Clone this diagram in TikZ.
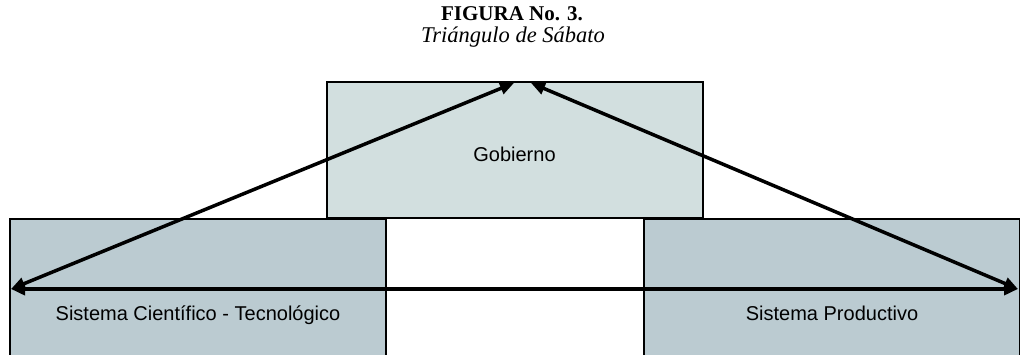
\documentclass[tikz,border=0pt]{standalone}
\usepackage{fontspec}
\setmainfont{Liberation Serif}
\newfontfamily\boxfont{Liberation Sans}
\usetikzlibrary{positioning,arrows.meta}

\definecolor{gobfill}{HTML}{D2DFDF}
\definecolor{sysfill}{HTML}{BBCBD1}

\begin{document}
\begin{tikzpicture}[x=1pt, y=-1pt, >={Triangle[length=14pt, width=12pt]}, line width=3.5pt]
    \tikzset{sisbox/.style={draw, line width=2pt, fill=sysfill, minimum width=376pt, minimum height=188pt, inner sep=0pt, text height=18pt, text depth=4pt, font=\boxfont\fontsize{20}{24}\selectfont}}
    \useasboundingbox (0,0) rectangle (1020,354);
    \clip (0,0) rectangle (1020,354);
    \node[font=\bfseries\fontsize{21}{24}\selectfont] (fig) at (512,14) {FIGURA No. 3.};
    \node[font=\itshape\fontsize{22.5}{26}\selectfont] (tit) at (513,37) {Triángulo de Sábato};
    \node[sisbox, fill=gobfill, minimum height=136pt, text height=26pt] (gob) at (514.5,150) {Gobierno};
    \node[sisbox] (cien) at (198,313) {Sistema Científico - Tecnológico};
    \node[sisbox] (prod) at (832,313) {Sistema Productivo};
    % puntas de las flechas
    \coordinate (gobL) at (514,83);
    \coordinate (gobR) at (531,83);
    \coordinate (cienA) at (11,289);
    \coordinate (prodA) at (1018,289);
    \draw[<->] (gobL) -- (cienA);
    \draw[<->] (gobR) -- (prodA);
    \draw[<->] (cienA) -- (prodA);
  \end{tikzpicture}
\end{document}
